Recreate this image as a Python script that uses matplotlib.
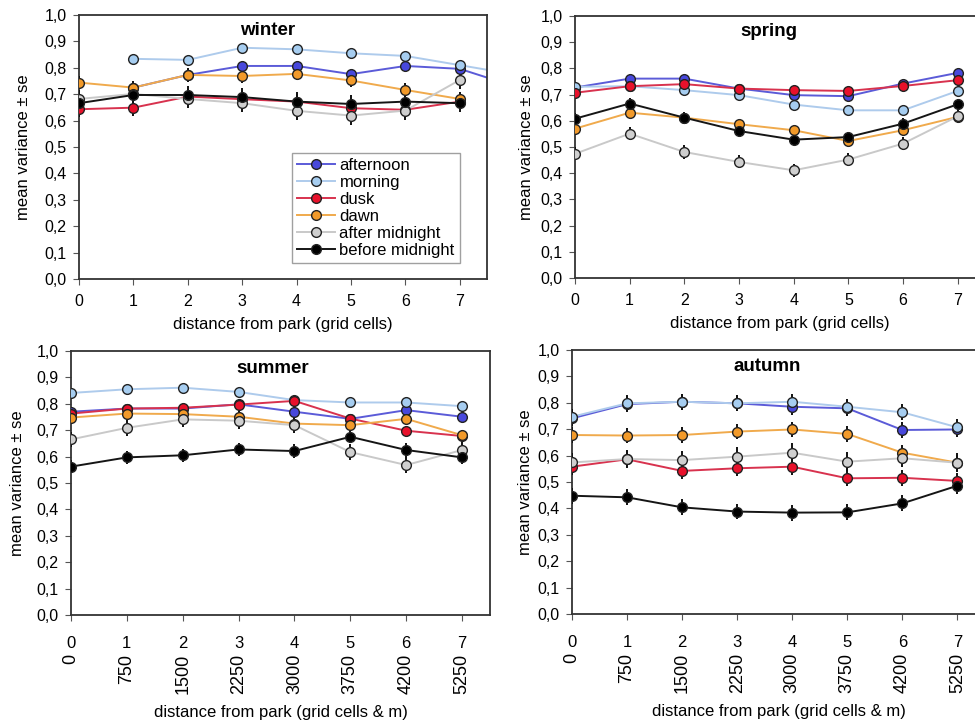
import matplotlib
matplotlib.use('Agg')
import matplotlib.pyplot as plt
import numpy as np
from matplotlib.lines import Line2D

plt.rcParams['font.family'] = ['Liberation Sans', 'DejaVu Sans']
narrow = ['Liberation Sans Narrow', 'Liberation Sans', 'DejaVu Sans']

nan = np.nan
cells = [0, 1, 2, 3, 4, 5, 6, 7]
winter_cells = [0, 1, 2, 3, 4, 5, 6, 7, 8]
meters = ['0', '750', '1500', '2250', '3000', '3750', '4200', '5250']
series = ['afternoon', 'morning', 'dusk', 'dawn', 'after midnight', 'before midnight']

# winter (x = 0..8, the last point lies outside the axis)
winter_afternoon = [nan, 0.725, 0.773, 0.807, 0.807, 0.776, 0.807, 0.796, 0.73]
winter_morning = [nan, 0.834, 0.830, 0.876, 0.870, 0.855, 0.845, 0.810, 0.775]
winter_dusk = [0.643, 0.649, 0.691, 0.681, 0.672, 0.647, 0.641, 0.672, nan]
winter_dawn = [0.744, 0.725, 0.773, 0.769, 0.777, 0.752, 0.716, 0.682, nan]
winter_after = [0.682, 0.701, 0.682, 0.666, 0.637, 0.619, 0.638, 0.754, nan]
winter_before = [0.666, 0.697, 0.697, 0.689, 0.672, 0.663, 0.672, 0.666, nan]

spring_afternoon = [0.727, 0.761, 0.761, 0.723, 0.698, 0.694, 0.742, 0.783]
spring_morning = [0.730, 0.732, 0.717, 0.698, 0.662, 0.640, 0.640, 0.714]
spring_dusk = [0.707, 0.732, 0.740, 0.723, 0.717, 0.714, 0.733, 0.755]
spring_dawn = [0.570, 0.631, 0.612, 0.587, 0.564, 0.523, 0.564, 0.615]
spring_after = [0.474, 0.551, 0.481, 0.443, 0.411, 0.452, 0.513, 0.617]
spring_before = [0.608, 0.666, 0.612, 0.561, 0.528, 0.538, 0.589, 0.663]

summer_afternoon = [0.770, 0.782, 0.782, 0.798, 0.770, 0.743, 0.776, 0.751]
summer_morning = [0.841, 0.855, 0.861, 0.845, 0.814, 0.805, 0.805, 0.791]
summer_dusk = [0.763, 0.782, 0.785, 0.797, 0.811, 0.744, 0.698, 0.678]
summer_dawn = [0.748, 0.763, 0.761, 0.751, 0.725, 0.719, 0.743, 0.681]
summer_after = [0.665, 0.709, 0.741, 0.736, 0.719, 0.617, 0.568, 0.625]
summer_before = [0.562, 0.597, 0.605, 0.627, 0.621, 0.675, 0.625, 0.597]

autumn_afternoon = [0.741, 0.795, 0.804, 0.798, 0.785, 0.779, 0.697, 0.699]
autumn_morning = [0.747, 0.798, 0.804, 0.798, 0.804, 0.785, 0.764, 0.707]
autumn_dusk = [0.558, 0.586, 0.542, 0.552, 0.558, 0.514, 0.516, 0.504]
autumn_dawn = [0.678, 0.676, 0.678, 0.691, 0.699, 0.682, 0.611, 0.573]
autumn_after = [0.574, 0.587, 0.583, 0.596, 0.611, 0.577, 0.590, 0.573]
autumn_before = [0.448, 0.442, 0.404, 0.388, 0.384, 0.385, 0.419, 0.486]

# standard errors, one per series (afternoon .. before midnight)
winter_se = [0.01, 0.01, 0.03, 0.025, 0.035, 0.035]
spring_se = [0.01, 0.01, 0.01, 0.015, 0.025, 0.02]
summer_se = [0.01, 0.01, 0.015, 0.02, 0.03, 0.025]
autumn_se = [0.03, 0.03, 0.03, 0.03, 0.035, 0.03]

line_colors = ['#5b5bd8', '#aecbec', '#d8324e', '#f0aa4c', '#c9c9c9', '#151515']
face_colors = ['#4848dc', '#a6cdf0', '#e8112b', '#f29a2a', '#cfcfcf', '#000000']

W, H = 975, 722
fig = plt.figure(figsize=(W / 100, H / 100), dpi=100)


def box(l, t, r, b):
    return [l / W, 1 - b / H, (r - l) / W, (b - t) / H]


def panel(rect, title, title_xy, xs, data, se, bottom_row, ylab_x):
    ax = fig.add_axes(box(*rect))
    for i, ys in enumerate(data):
        ax.plot(xs, ys, color=line_colors[i], lw=1.4, zorder=2)
    for i, ys in enumerate(data):
        ax.errorbar(xs, ys, yerr=se[i], fmt='none', ecolor='#111111',
                    elinewidth=1.4, capsize=0, zorder=3)
    for i, ys in enumerate(data):
        ax.plot(xs, ys, ls='none', marker='o', ms=7, mfc=face_colors[i],
                mec='#222222', mew=1.0, zorder=4)
    ax.set_xlim(0, 7.5)
    ax.set_ylim(0, 1.0)
    ax.set_yticks(np.arange(0, 1.01, 0.1))
    ax.set_yticklabels([f'{v:.1f}'.replace('.', ',') for v in np.arange(0, 1.01, 0.1)])
    ax.set_xticks(cells)
    for s in ax.spines.values():
        s.set_color('#333333')
        s.set_linewidth(1.3)
    ax.tick_params(axis='y', direction='out', length=4, color='#555555',
                   labelsize=11.5, pad=5)
    ax.set_ylabel('mean variance ± se', fontsize=12)
    ax.yaxis.set_label_coords(ylab_x, 0.5)
    if bottom_row:
        ax.tick_params(axis='x', direction='out', length=4, color='#555555', pad=11)
        ax.set_xticklabels([str(c) for c in cells], family=narrow, fontsize=12)
        for c, m in zip(cells, meters):
            ax.text(c, -0.148, m, transform=ax.get_xaxis_transform(), rotation=90,
                    ha='center', va='top', fontsize=13)
        ax.text(0.5, -0.37, 'distance from park (grid cells & m)',
                transform=ax.transAxes, ha='center', va='center',
                family=narrow, fontsize=12)
    else:
        ax.tick_params(axis='x', direction='out', length=4, color='#555555',
                       labelsize=11.5, pad=7)
        ax.set_xlabel('distance from park (grid cells)', fontsize=12)
        ax.xaxis.set_label_coords(0.5, -0.145)
    ax.text(title_xy[0], title_xy[1], title, transform=ax.transAxes,
            ha='center', va='center', fontsize=13.5, fontweight='bold')
    return ax


ax_w = panel((79, 15, 487, 279), 'winter', (0.463, 0.943), winter_cells,
             [winter_afternoon, winter_morning, winter_dusk, winter_dawn,
              winter_after, winter_before], winter_se, False, -0.118)
panel((575, 16, 985, 278), 'spring', (0.473, 0.939), cells,
      [spring_afternoon, spring_morning, spring_dusk, spring_dawn,
       spring_after, spring_before], spring_se, False, -0.1)
panel((71, 351, 490, 615), 'summer', (0.482, 0.932), cells,
      [summer_afternoon, summer_morning, summer_dusk, summer_dawn,
       summer_after, summer_before], summer_se, True, -0.11)
panel((572, 350, 985, 614), 'autumn', (0.472, 0.936), cells,
      [autumn_afternoon, autumn_morning, autumn_dusk, autumn_dawn,
       autumn_after, autumn_before], autumn_se, True, -0.095)

handles = [Line2D([0], [0], color=line_colors[i], lw=1.4, marker='o', ms=7,
                  mfc=face_colors[i], mec='#222222', mew=1.0)
           for i in range(len(series))]
leg = ax_w.legend(handles, series, loc='upper left', bbox_to_anchor=(0.522, 0.477),
                  borderaxespad=0, fontsize=12, frameon=True, fancybox=False,
                  edgecolor='#888888', labelspacing=0.12, handlelength=2.3,
                  handletextpad=0.25, borderpad=0.3)
leg.get_frame().set_linewidth(1.0)
leg.set_zorder(5)

fig.savefig('out.png', dpi=100)
